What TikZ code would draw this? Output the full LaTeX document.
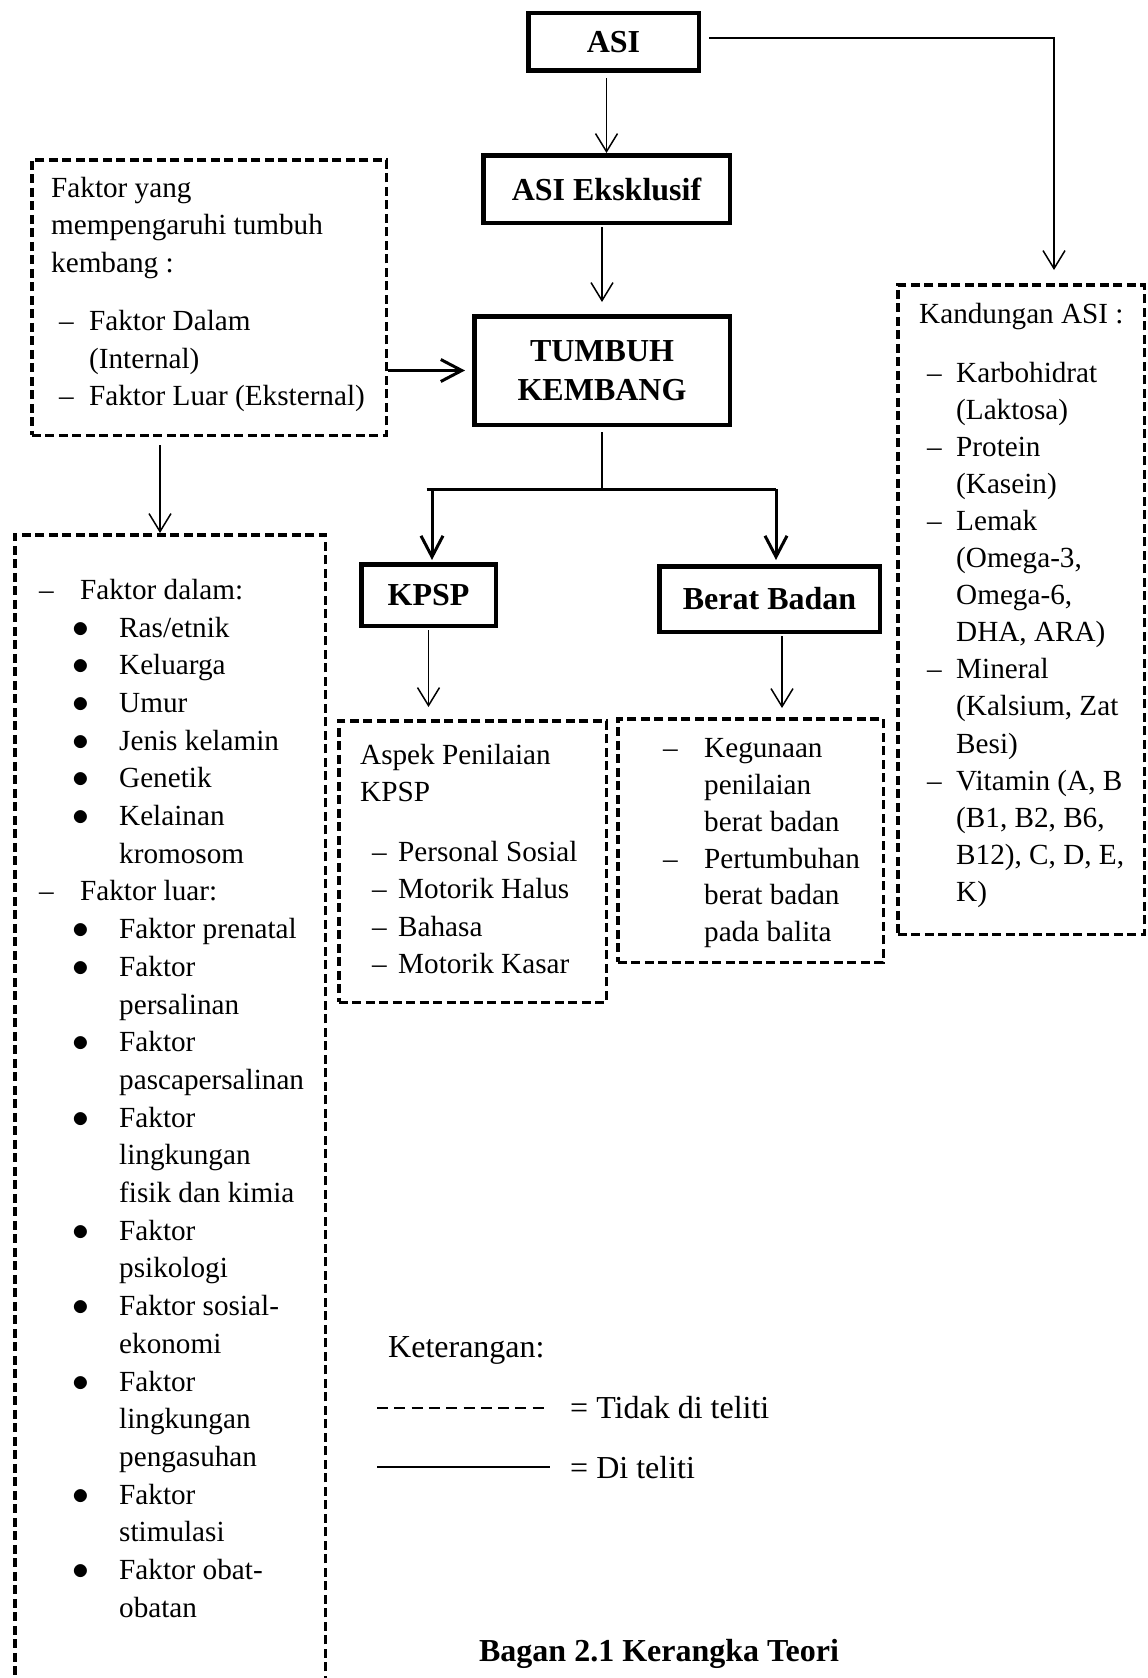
\documentclass[tikz,border=0pt]{standalone}
\usepackage{fontspec}
\setmainfont{Liberation Serif}
\usetikzlibrary{arrows.meta}

\newcommand{\dashat}[2]{\hspace*{#1}\makebox[#2][l]{\textendash}}
\newcommand{\bulat}[2]{\hspace*{#1}\makebox[#2][l]{\scalebox{1.35}{$\bullet$}}}

\tikzset{
  boldbox/.style={draw, line width=4.5pt, inner sep=0pt, align=center,
    font=\bfseries\fontsize{32}{39}\selectfont},
  dashbox/.style={draw, line width=3.5pt, dash pattern=on 9pt off 4.5pt},
  boxtext/.style={anchor=north west, inner sep=0pt, align=left,
    font=\fontsize{29.2}{37.5}\selectfont},
  keytext/.style={anchor=base west, inner sep=0pt, font=\fontsize{32}{38}\selectfont},
  thinarrow/.style={line width=1.5pt, -{Straight Barb[length=18pt,width=22pt]}},
  thickarrow/.style={line width=3pt, -{Straight Barb[length=21pt,width=22pt]}},
}

\begin{document}
\begin{tikzpicture}[x=1pt, y=-1pt]
\useasboundingbox (0,0) rectangle (1148,1678);

% main boxes
\node[boldbox, minimum width=170.5, minimum height=57.5] (asi) at (613.5,42) {ASI};
\node[boldbox, minimum width=246.5, minimum height=67.5] (eks) at (606.5,189) {ASI Eksklusif};
\node[boldbox, minimum width=255.5, minimum height=108.5] (tk) at (602,370.5) {TUMBUH\\KEMBANG};
\node[boldbox, minimum width=134.5, minimum height=61.5] (kpsp) at (428.5,595) {KPSP};
\node[boldbox, minimum width=220.5, minimum height=65.5] (bb) at (769.5,599) {Berat Badan};

% dashed boxes
\node[dashbox, minimum width=354.5, minimum height=275.5] (faktor) at (209,297.5) {};
\node[dashbox, minimum width=246.5, minimum height=649.5] (kand) at (1021,609.5) {};
\node[dashbox, minimum width=310.5, minimum height=1163.5] (rinci) at (170,1116.5) {};
\node[dashbox, minimum width=267.5, minimum height=281.5] (aspek) at (472.5,861.5) {};
\node[dashbox, minimum width=265.5, minimum height=243.5] (guna) at (750.5,840.5) {};

\node[boxtext] (faktortxt) at (51,170.75) {\strut Faktor yang\\
  mempengaruhi tumbuh\\ kembang :\\[21pt]
  \dashat{8pt}{30pt}Faktor Dalam\\ \hspace*{38pt}(Internal)\\
  \dashat{8pt}{30pt}Faktor Luar (Eksternal)};

\node[boxtext, font=\fontsize{29.2}{37.1}\selectfont] (kandtxt) at (919,297.75) {\strut Kandungan ASI :\\[21pt]
  \dashat{8pt}{29pt}Karbohidrat\\ \hspace*{37pt}(Laktosa)\\
  \dashat{8pt}{29pt}Protein\\ \hspace*{37pt}(Kasein)\\
  \dashat{8pt}{29pt}Lemak\\ \hspace*{37pt}(Omega-3,\\ \hspace*{37pt}Omega-6,\\
  \hspace*{37pt}DHA, ARA)\\
  \dashat{8pt}{29pt}Mineral\\ \hspace*{37pt}(Kalsium, Zat\\ \hspace*{37pt}Besi)\\
  \dashat{8pt}{29pt}Vitamin (A, B\\ \hspace*{37pt}(B1, B2, B6,\\
  \hspace*{37pt}B12), C, D, E,\\ \hspace*{37pt}K)};

\node[boxtext, font=\fontsize{29.2}{37.7}\selectfont] (rincitxt) at (39,572.75) {\strut\dashat{0pt}{41pt}Faktor dalam:\\
  \bulat{33pt}{47pt}Ras/etnik\\
  \bulat{33pt}{47pt}Keluarga\\
  \bulat{33pt}{47pt}Umur\\
  \bulat{33pt}{47pt}Jenis kelamin\\
  \bulat{33pt}{47pt}Genetik\\
  \bulat{33pt}{47pt}Kelainan\\ \hspace*{80pt}kromosom\\
  \dashat{0pt}{41pt}Faktor luar:\\
  \bulat{33pt}{47pt}Faktor prenatal\\
  \bulat{33pt}{47pt}Faktor\\ \hspace*{80pt}persalinan\\
  \bulat{33pt}{47pt}Faktor\\ \hspace*{80pt}pascapersalinan\\
  \bulat{33pt}{47pt}Faktor\\ \hspace*{80pt}lingkungan\\ \hspace*{80pt}fisik dan kimia\\
  \bulat{33pt}{47pt}Faktor\\ \hspace*{80pt}psikologi\\
  \bulat{33pt}{47pt}Faktor sosial-\\ \hspace*{80pt}ekonomi\\
  \bulat{33pt}{47pt}Faktor\\ \hspace*{80pt}lingkungan\\ \hspace*{80pt}pengasuhan\\
  \bulat{33pt}{47pt}Faktor\\ \hspace*{80pt}stimulasi\\
  \bulat{33pt}{47pt}Faktor obat-\\ \hspace*{80pt}obatan};

\node[boxtext] (aspektxt) at (360,737.75) {\strut Aspek Penilaian\\ KPSP\\[22pt]
  \dashat{12pt}{26pt}Personal Sosial\\
  \dashat{12pt}{26pt}Motorik Halus\\
  \dashat{12pt}{26pt}Bahasa\\
  \dashat{12pt}{26pt}Motorik Kasar};

\node[boxtext, font=\fontsize{29.2}{36.8}\selectfont] (gunatxt) at (663,731.75) {\strut\dashat{0pt}{41pt}Kegunaan\\
  \hspace*{41pt}penilaian\\ \hspace*{41pt}berat badan\\
  \dashat{0pt}{41pt}Pertumbuhan\\
  \hspace*{41pt}berat badan\\ \hspace*{41pt}pada balita};

% connectors
\draw[thinarrow, shorten <=5pt] (eks.north |- asi.south) -- (eks.north);
\draw[thinarrow, shorten <=2pt, shorten >=12pt] (tk.north |- eks.south) -- (tk.north);
\draw[thinarrow] ([xshift=8pt, yshift=4pt]asi.east) -| ([xshift=33pt, yshift=13pt]kand.north);
\draw[thickarrow, shorten >=7pt] (faktor.east |- tk.west) -- (tk.west);
\draw[thinarrow, shorten <=8pt] ([xshift=-10pt]rinci.north |- faktor.south) -- ([xshift=-10pt]rinci.north);

\coordinate (cabang) at (602,489);
\draw[line width=2pt, shorten <=5pt] (tk.south) -- (cabang);
\draw[line width=3pt] ([xshift=-2pt]kpsp.north |- cabang) -- ([xshift=6.5pt]bb.north |- cabang);
\draw[thickarrow, shorten >=2pt] ([xshift=3.5pt]kpsp.north |- cabang) -- ([xshift=3.5pt]kpsp.north);
\draw[thickarrow, shorten >=4pt] ([xshift=6.5pt]bb.north |- cabang) -- ([xshift=6.5pt]bb.north);
\draw[thinarrow, shorten <=2pt, shorten >=12pt] (kpsp.south) -- (kpsp.south |- aspek.north);
\draw[thinarrow, shorten <=2pt, shorten >=9pt] ([xshift=12.5pt]bb.south) -- ([xshift=12.5pt]bb.south |- guna.north);

% keterangan
\node[keytext] (ket) at (388,1357) {Keterangan:};
\node[keytext] (tidak) at (570,1418) {= Tidak di teliti};
\node[keytext] (diteliti) at (570,1478) {= Di teliti};
\coordinate (garis1) at (377,1408);
\coordinate (garis2) at (377,1467);
\draw[line width=2.5pt, dash pattern=on 11pt off 6.3pt] (garis1) -- (garis1 -| 550,0);
\draw[line width=2pt] (garis2) -- (garis2 -| 550,0);

\node[anchor=base, inner sep=0pt, font=\bfseries\fontsize{32}{38}\selectfont] (judul) at (659,1661) {Bagan 2.1 Kerangka Teori};
\end{tikzpicture}
\end{document}
